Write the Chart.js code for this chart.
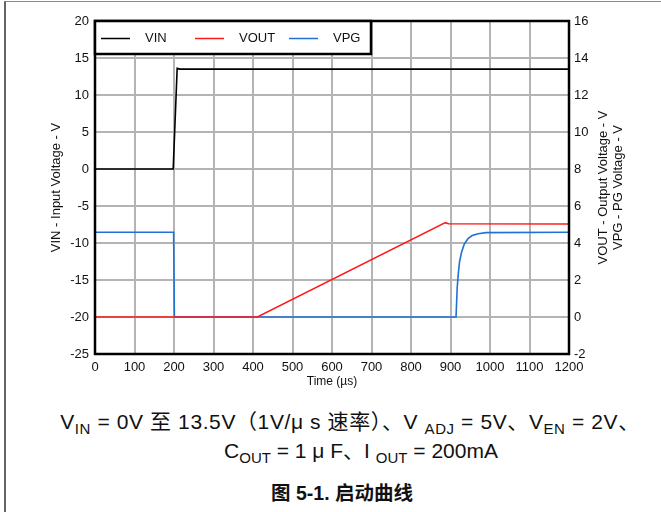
<!DOCTYPE html>
<html>
<head>
<meta charset="utf-8">
<script src="https://cdn.jsdelivr.net/npm/chart.js@4/dist/chart.umd.min.js"></script>
<style>
  html, body { margin: 0; padding: 0; background: #fff; }
  body { width: 661px; height: 512px; position: relative; overflow: hidden;
         font-family: "Liberation Sans", Arial, "Noto Sans CJK SC", sans-serif; color: #111; }
  #frame { position: absolute; left: 4px; top: 1px; width: 700px; height: 600px;
           border-top: 1.5px solid #888; border-left: 2px solid #666; }
  #wrap { position: absolute; left: 0; top: 0; width: 661px; height: 395px; }
  .cap { position: absolute; width: 700px; text-align: center; white-space: nowrap;
         font-family: "Liberation Sans", Arial, "Noto Sans CJK SC", sans-serif; }
  .cap sub { font-size: 15px; vertical-align: -5px; line-height: 0; }
  #l1 { top: 405px; font-size: 21px; left: 0px; letter-spacing: 0.6px; }
  #l2 { top: 434px; font-size: 21px; left: 11px; }
  #l3 { top: 477px; font-size: 19.5px; font-weight: bold; left: -8px; }
</style>
</head>
<body>
<div id="frame"></div>
<div id="wrap"><canvas id="chart"></canvas></div>
<div class="cap" id="l1">V<sub>IN</sub> = 0V 至 13.5V（1V/μ s 速率）、V <sub>ADJ</sub> = 5V、V<sub>EN</sub> = 2V、</div>
<div class="cap" id="l2">C<sub>OUT</sub> = 1 μ F、I <sub>OUT</sub> = 200mA</div>
<div class="cap" id="l3">图 5-1. 启动曲线</div>
<script>
// time axis ticks (µs)
const timeTicks = [0, 100, 200, 300, 400, 500, 600, 700, 800, 900, 1000, 1100, 1200];

// VIN (left axis, V)
const vinTime = [0, 198, 208, 215, 1200];
const vinVolt = [0, 0, 13.6, 13.5, 13.5];

// VOUT (right axis, V)
const voutTime = [0, 411, 887, 895, 1200];
const voutVolt = [0, 0, 5.1, 5.04, 5.03];

// VPG (right axis, V)
const vpgTime = [0, 199, 201, 914, 917, 920, 923, 928, 935, 945, 955, 970, 990, 1200];
const vpgVolt = [4.58, 4.58, 0, 0, 1.6, 2.4, 3.0, 3.5, 3.95, 4.25, 4.4, 4.5, 4.56, 4.58];

const pts = (xs, ys) => xs.map((x, i) => ({ x: x, y: ys[i] }));
const FONT = '"Liberation Sans", Arial, sans-serif';
const GRID = "#b4b4b4";

// grid lines from the scales' own ticks
const gridLines = {
  id: "gridLines",
  beforeDatasetsDraw(chart) {
    const ctx = chart.ctx;
    const a = chart.chartArea;
    ctx.save();
    ctx.strokeStyle = GRID;
    ctx.lineWidth = 2;
    ctx.beginPath();
    chart.scales.x.ticks.forEach(t => {
      const px = Math.round(chart.scales.x.getPixelForValue(t.value));
      ctx.moveTo(px, a.top);
      ctx.lineTo(px, a.bottom);
    });
    chart.scales.yL.ticks.forEach(t => {
      const py = Math.round(chart.scales.yL.getPixelForValue(t.value));
      ctx.moveTo(a.left, py);
      ctx.lineTo(a.right, py);
    });
    ctx.stroke();
    ctx.restore();
  }
};

// legend box inside the plot + frame around plot + right titles
const extras = {
  id: "extras",
  afterDatasetsDraw(chart) {
    const ctx = chart.ctx;
    const a = chart.chartArea;
    ctx.save();
    ctx.strokeStyle = "#000";
    ctx.lineWidth = 2.5;
    ctx.strokeRect(a.left, a.top, a.right - a.left, a.bottom - a.top);

    // legend
    const lx = a.left, ly = a.top, lw = 276, lh = 33;
    ctx.fillStyle = "#fff";
    ctx.fillRect(lx, ly, lw, lh);
    ctx.strokeRect(lx, ly, lw, lh);
    ctx.font = "13px " + FONT;
    ctx.textBaseline = "middle";
    chart.data.datasets.forEach((ds, i) => {
      const x0 = lx + 6 + i * 94;
      const cy = ly + lh / 2 + 1;
      ctx.strokeStyle = ds.borderColor;
      ctx.lineWidth = 1.5;
      ctx.beginPath();
      ctx.moveTo(x0, cy);
      ctx.lineTo(x0 + 29, cy);
      ctx.stroke();
      ctx.fillStyle = "#111";
      ctx.fillText(ds.label, x0 + 44, cy);
    });

    // right axis titles (read bottom to top)
    const cy = (a.top + a.bottom) / 2;
    ctx.fillStyle = "#111";
    ctx.textAlign = "center";
    ctx.font = "13px " + FONT;
    [["VOUT - Output Voltage - V", 603], ["VPG - PG Voltage - V", 618]].forEach(t => {
      ctx.save();
      ctx.translate(t[1], cy);
      ctx.rotate(-Math.PI / 2);
      ctx.fillText(t[0], 0, 0);
      ctx.restore();
    });
    ctx.restore();
  }
};

new Chart(document.getElementById("chart"), {
  type: "line",
  data: {
    datasets: [
      { label: "VIN", data: pts(vinTime, vinVolt), yAxisID: "yL", borderColor: "#000000" },
      { label: "VOUT", data: pts(voutTime, voutVolt), yAxisID: "yR", borderColor: "#ff1a1a" },
      { label: "VPG", data: pts(vpgTime, vpgVolt), yAxisID: "yR", borderColor: "#1e73d2" }
    ]
  },
  options: {
    responsive: true,
    maintainAspectRatio: false,
    animation: false,
    layout: { padding: { top: 21, left: 0, right: 0, bottom: 0 } },
    elements: {
      point: { radius: 0 },
      line: { borderWidth: 1.6, tension: 0, fill: false }
    },
    plugins: { legend: { display: false }, tooltip: { enabled: false } },
    scales: {
      x: {
        type: "linear",
        min: timeTicks[0],
        max: timeTicks[timeTicks.length - 1],
        afterBuildTicks: s => { s.ticks = timeTicks.map(v => ({ value: v })); },
        afterFit: s => { s.height = 41; },
        grid: { display: true, drawOnChartArea: false, drawTicks: false },
        border: { display: false },
        ticks: { padding: 6, color: "#111", font: { family: FONT, size: 13 }, callback: v => String(v) },
        title: { display: true, text: "Time (µs)", color: "#111",
                 font: { family: FONT, size: 12 }, padding: { top: 0, bottom: 6 } }
      },
      yL: {
        position: "left",
        min: -25, max: 20,
        ticks: { stepSize: 5, padding: 6, color: "#111", font: { family: FONT, size: 13 } },
        afterFit: s => { s.width = 95; },
        grid: { display: true, drawOnChartArea: false, drawTicks: false },
        border: { display: false },
        title: { display: true, text: "VIN - Input Voltage - V", color: "#111",
                 font: { family: FONT, size: 13 }, padding: { top: 49, bottom: 0 } }
      },
      yR: {
        position: "right",
        min: -2, max: 16,
        ticks: { stepSize: 2, padding: 5, color: "#111", font: { family: FONT, size: 13 } },
        afterFit: s => { s.width = 92; },
        grid: { display: true, drawOnChartArea: false, drawTicks: false },
        border: { display: false }
      }
    }
  },
  plugins: [gridLines, extras]
});
</script>
</body>
</html>
